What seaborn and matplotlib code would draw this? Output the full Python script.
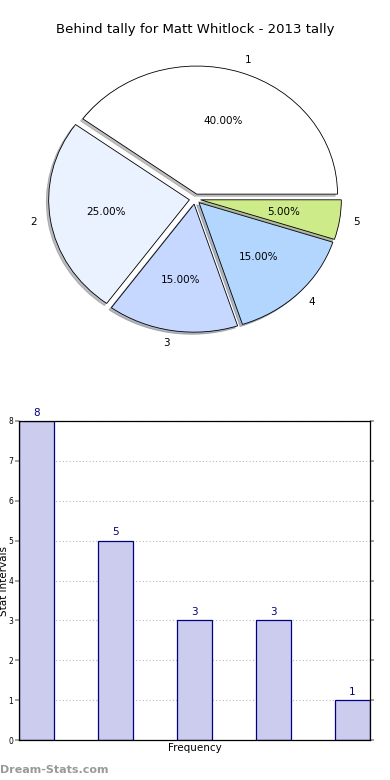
import matplotlib
matplotlib.use("Agg")
import matplotlib.pyplot as plt
import seaborn as sns
import pandas as pd

title = "Behind tally for Matt Whitlock - 2013 tally"
labels = ["1", "2", "3", "4", "5"]
counts = [8, 5, 3, 3, 1]
pie_colors = ["#ffffff", "#eaf1ff", "#c6d8ff", "#b3d6ff", "#ceeb8a"]

sns.set_theme(style="white")
plt.rcParams['font.family'] = ['DejaVu Sans']
plt.rcParams['text.color'] = 'black'
plt.rcParams['axes.labelcolor'] = 'black'
plt.rcParams['ytick.labelcolor'] = 'black'

fig = plt.figure(figsize=(3.9, 7.8), dpi=100)

# pie (stretched a bit horizontally, like the original)
ax1 = fig.add_axes([12 / 390, 1 - 365.5 / 780, 366 / 390, 333 / 780])
wedges, texts, autotexts = ax1.pie(
    counts, labels=labels, colors=pie_colors, explode=[0.04] * 5,
    autopct='%.2f%%', startangle=0, counterclock=True,
    shadow={'ox': -0.012, 'oy': -0.012, 'shade': 0.5},
    wedgeprops={'edgecolor': 'black', 'linewidth': 0.6},
    textprops={'fontsize': 7.5, 'color': 'black'})
ax1.set_aspect('auto')
ax1.set_xlim(-1.3, 1.3)
ax1.set_ylim(-1.3, 1.3)
ax1.axis('off')
fig.text(0.5, 1 - 30 / 780, title, ha='center', va='center', fontsize=9.5,
         color='black')

# bar chart
ax2 = fig.add_axes([19 / 390, 40 / 780, 351 / 390, 319 / 780])
df = pd.DataFrame({'cat': labels, 'n': counts})
sns.barplot(data=df, x='cat', y='n', ax=ax2, color='#ccccee', saturation=1,
            edgecolor='#000080', linewidth=0.9, width=0.45)
ax2.set_xlim(-0.225, 4.225)
ax2.set_ylim(0, 8)
ax2.set_yticks(range(0, 9))
ax2.set_xticks([])
ax2.yaxis.grid(True, linestyle=(0, (1, 2)), color='#bbbbbb', linewidth=0.8)
ax2.set_axisbelow(True)
ax2.tick_params(axis='y', labelsize=5.5, length=3, color='#999999', pad=1,
                left=True, right=True, labelcolor='black')
for s in ax2.spines.values():
    s.set_color('black')
    s.set_linewidth(0.9)
for i, v in enumerate(counts):
    ax2.text(i, v + 0.08, str(v), ha='center', va='bottom', color='#000080',
             fontsize=7.5)
ax2.set_xlabel('Frequency', fontsize=7.5, labelpad=2)
ax2.set_ylabel('Stat Intervals', fontsize=7.5)
ax2.yaxis.set_label_coords(-9.5 / 351, 0.5)

fig.text(0.0, 1 - 770 / 780, 'Dream-Stats.com', color='#999999',
         fontsize=8, fontweight='bold', va='center', ha='left')

fig.savefig('out.png', dpi=100)
